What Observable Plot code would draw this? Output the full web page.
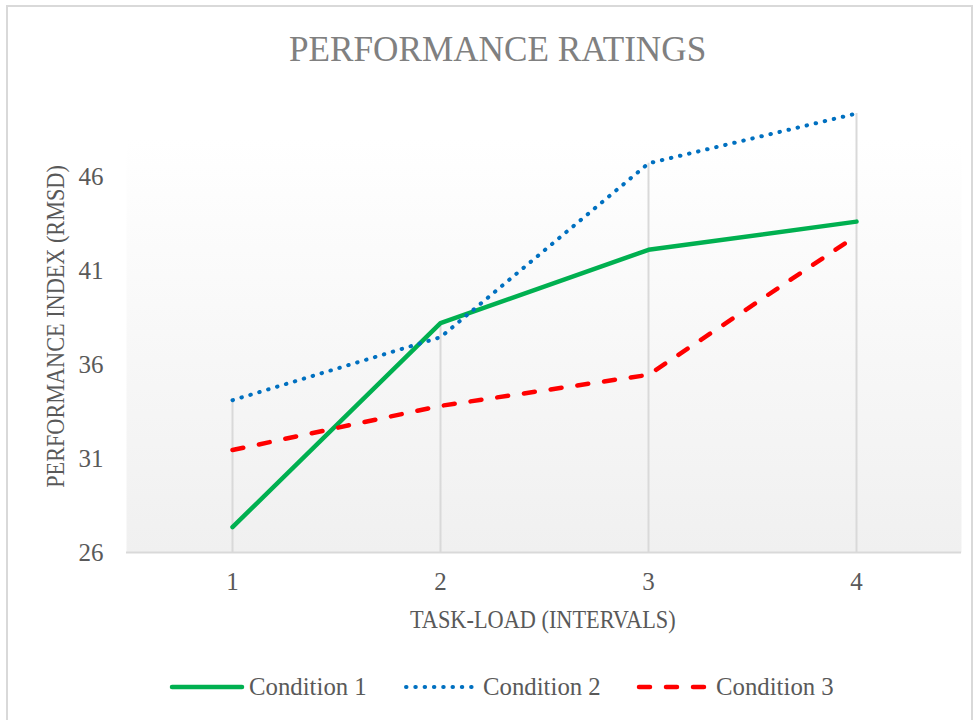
<!DOCTYPE html>
<html><head><meta charset="utf-8">
<script src="https://cdn.jsdelivr.net/npm/d3@7"></script>
<script src="https://cdn.jsdelivr.net/npm/@observablehq/plot@0.6"></script>
<style>
html,body{margin:0;padding:0;background:#fff;}
#chart{position:relative;width:977px;height:720px;overflow:hidden;font-family:"Liberation Serif",serif;}
#border{position:absolute;left:6px;top:5px;width:967px;height:730px;border:2px solid #d9d9d9;box-sizing:border-box;}
.lbl{position:absolute;white-space:nowrap;line-height:1;transform-origin:50% 50%;color:#595959;}
#plotHolder{position:absolute;left:0;top:0;}
</style></head><body>
<div id="chart"><div id="border"></div><div id="plotHolder"></div></div>
<script>
// ---- data ----
const loads = [1, 2, 3, 4];
const cond1 = [27.35, 38.2, 42.1, 43.6];
const cond2 = [34.1, 37.45, 46.7, 49.35];
const cond3 = [31.45, 33.8, 35.45, 42.85];
const seriesNames = ["Condition 1", "Condition 2", "Condition 3"];
const yTicks = [26, 31, 36, 41, 46];
const chartTitle = "PERFORMANCE RATINGS";
const xTitle = "TASK-LOAD (INTERVALS)";
const yTitle = "PERFORMANCE INDEX (RMSD)";

// ---- styles ----
const seriesValues = [cond1, cond2, cond3];
const seriesColors = ["#00b050", "#0070c0", "#ff0000"];
const seriesDash = [null, "0.5 8.8", "11 16"];
const seriesWidth = [4.5, 4, 4.5];

const rows = [];
seriesNames.forEach((s, i) => loads.forEach((l, j) => rows.push({series: s, load: l, value: seriesValues[i][j]})));
const dropRows = loads.map((l, j) => ({load: l, max: d3.max(seriesValues, v => v[j])}));

const lineMarks = seriesNames.map((s, i) =>
  Plot.line(rows.filter(r => r.series === s), {
    x: "load", y: "value", stroke: seriesColors[i], strokeWidth: seriesWidth[i],
    strokeDasharray: seriesDash[i] || undefined, strokeLinecap: "round", strokeLinejoin: "round"
  }));

const plot = Plot.plot({
  width: 977, height: 720,
  marginTop: 82, marginBottom: 168, marginLeft: 126, marginRight: 16,
  style: {fontFamily: "'Liberation Serif', serif", fontSize: "25px", color: "#595959", background: "transparent", overflow: "visible"},
  x: {type: "point", domain: loads, padding: 0.5, tickSize: 0, tickPadding: 20, label: null},
  y: {domain: [26, 51], ticks: yTicks, tickSize: 0, tickPadding: 23, label: null},
  marks: [
    Plot.frame({fill: "url(#plotAreaGrad)", stroke: "none"}),
    Plot.ruleX(dropRows, {x: "load", y1: 26, y2: "max", stroke: "#d9d9d9", strokeWidth: 2}),
    Plot.ruleY([26], {stroke: "#d9d9d9", strokeWidth: 2}),
    ...lineMarks
  ]
});
const svg = d3.select(plot);
const grad = svg.insert("defs", ":first-child").append("linearGradient")
  .attr("id", "plotAreaGrad").attr("x1", 0).attr("y1", 0).attr("x2", 0).attr("y2", 1);
grad.append("stop").attr("offset", "0%").attr("stop-color", "#ffffff");
grad.append("stop").attr("offset", "12%").attr("stop-color", "#ffffff");
grad.append("stop").attr("offset", "100%").attr("stop-color", "#f0f0f0");
document.getElementById("plotHolder").appendChild(plot);

// ---- text helpers ----
const chart = document.getElementById("chart");
function addLabel(text, {cx, cy, size, color = "#595959", width = null, rotate = 0}) {
  const el = document.createElement("span");
  el.className = "lbl";
  el.textContent = text;
  el.style.fontSize = size + "px";
  el.style.color = color;
  chart.appendChild(el);
  const w = el.offsetWidth, h = el.offsetHeight;
  el.style.left = (cx - w / 2) + "px";
  el.style.top = (cy - h / 2) + "px";
  const s = width ? width / w : 1;
  el.style.transform = (rotate ? `rotate(${rotate}deg) ` : "") + `scaleX(${s})`;
  return el;
}
addLabel(chartTitle, {cx: 497.5, cy: 49, size: 35, color: "#808080", width: 417});
addLabel(xTitle, {cx: 543, cy: 619, size: 25, width: 266});
addLabel(yTitle, {cx: 55, cy: 326.5, size: 25, width: 323, rotate: -90});

// ---- legend ----
const legendY = 687;
seriesNames.forEach((s, i) => {
  const x0 = 172 + i * 233.5;
  const sw = document.createElementNS("http://www.w3.org/2000/svg", "svg");
  sw.setAttribute("width", 80); sw.setAttribute("height", 12);
  sw.style.position = "absolute"; sw.style.left = (x0 - 4) + "px"; sw.style.top = (legendY - 6) + "px";
  const ln = document.createElementNS("http://www.w3.org/2000/svg", "line");
  ln.setAttribute("x1", 4); ln.setAttribute("x2", 4 + (i === 0 ? 70 : 68));
  ln.setAttribute("y1", 6); ln.setAttribute("y2", 6);
  ln.setAttribute("stroke", seriesColors[i]); ln.setAttribute("stroke-width", seriesWidth[i]);
  ln.setAttribute("stroke-linecap", "round");
  if (seriesDash[i]) ln.setAttribute("stroke-dasharray", seriesDash[i]);
  sw.appendChild(ln);
  chart.appendChild(sw);
  const el = addLabel(s, {cx: 0, cy: 686, size: 25, width: 118});
  el.style.transformOrigin = "0 50%";
  el.style.left = (x0 + 77) + "px";
});
</script>
</body></html>
